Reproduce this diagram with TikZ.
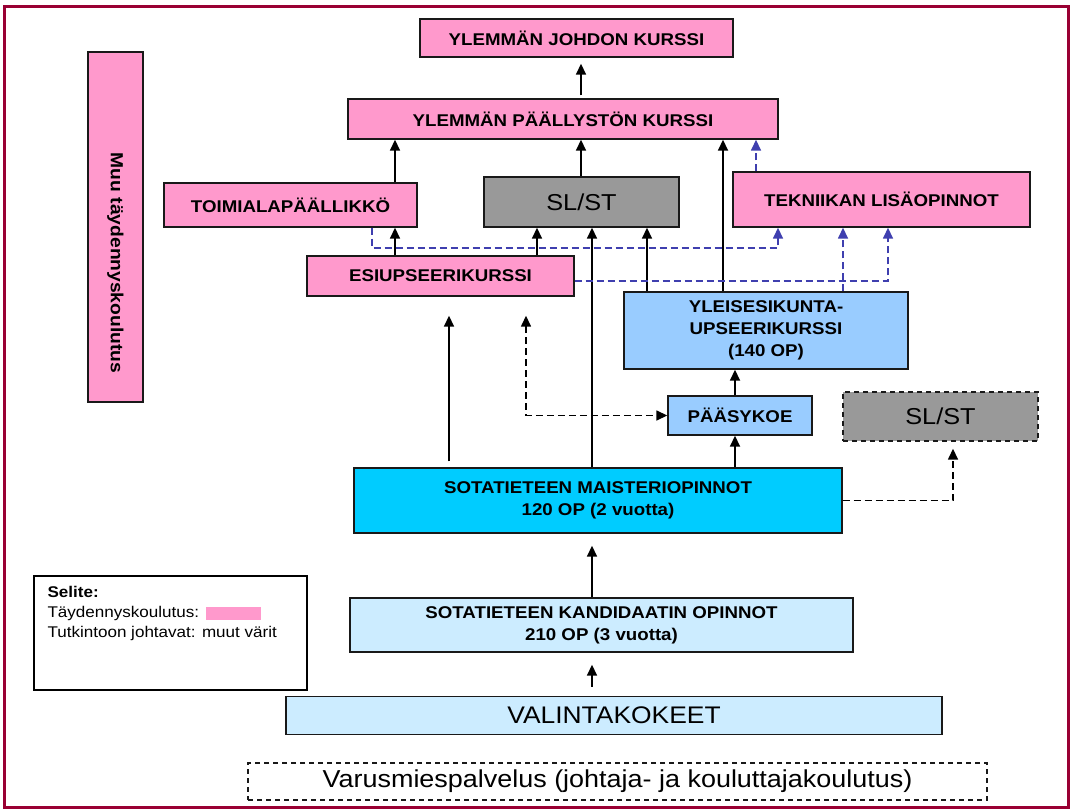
\documentclass[tikz,border=0pt]{standalone}
\usepackage{fontspec}
\setmainfont{Liberation Sans}[FakeStretch=1.1]
\usetikzlibrary{arrows.meta,positioning}
\definecolor{kpink}{HTML}{FF99CC}
\definecolor{kgray}{HTML}{999999}
\definecolor{kblue}{HTML}{99CCFF}
\definecolor{kcyan}{HTML}{00CCFF}
\definecolor{klight}{HTML}{CCECFF}
\definecolor{kdash}{HTML}{3F3FAF}
\definecolor{kframe}{HTML}{990033}
\tikzstyle{box}=[draw=black!90,line width=1.4pt,inner sep=2pt,align=center,text=black,font=\bfseries\fontsize{17}{22}\selectfont]
\tikzstyle{pinkbox}=[box,fill=kpink]
\tikzstyle{graybox}=[box,fill=kgray,font=\fontsize{23}{26}\selectfont]
\tikzstyle{bluebox}=[box,fill=kblue]
\tikzstyle{cyanbox}=[box,fill=kcyan]
\tikzstyle{lightbox}=[box,fill=klight]
\tikzstyle{dashbox}=[box,dashed,dash pattern=on 5pt off 4pt]
\tikzstyle{arr}=[-{Triangle[length=11pt,width=10pt]},line width=1.7pt]
\tikzstyle{bluearr}=[-{Triangle[length=11pt,width=10pt]},line width=1.6pt,draw=kdash,dash pattern=on 7pt off 4pt]
\tikzstyle{blackdash}=[line width=1.5pt,dash pattern=on 7pt off 4pt]

\begin{document}
\begin{tikzpicture}[x=1pt,y=-1pt]
\useasboundingbox (0,0) rectangle (1071,809);
\draw[line width=3pt,draw=kframe] (4,6) rectangle (1068,807);

% columns for the connectors
\foreach \xx in {372,395,449,526,537,581,592,647,723,735,756,778,843,888,953}
\coordinate (c\xx) at (\xx,0);
\coordinate (r248) at (0,248);

% First the boxes
\node[pinkbox,minimum width=313pt,minimum height=38pt] (yjk) at (576.5,38) {YLEMMÄN JOHDON KURSSI};
\node[pinkbox,minimum width=430pt,minimum height=40pt] (ypk) at (563,119) {YLEMMÄN PÄÄLLYSTÖN KURSSI};
\node[pinkbox,minimum width=253pt,minimum height=44pt] (toim) at (290.5,205) {TOIMIALAPÄÄLLIKKÖ};
\node[graybox,minimum width=195pt,minimum height=50pt] (slst) at (581.5,202) {SL/ST};
\node[pinkbox,minimum width=297pt,minimum height=55pt] (tekn) at (881.5,199.5) {TEKNIIKAN LISÄOPINNOT};
\node[pinkbox,minimum width=267pt,minimum height=40pt] (esi) at (440.5,276) {ESIUPSEERIKURSSI};
\node[bluebox,minimum width=284pt,minimum height=77pt] (yleis) at (766,330.5) {YLEISESIKUNTA-\\UPSEERIKURSSI\\(140 OP)};
\node[bluebox,minimum width=144pt,minimum height=39pt] (paasy) at (740,415.5) {PÄÄSYKOE};
\node[graybox,dashbox,font=\fontsize{23}{26}\selectfont,minimum width=195pt,minimum height=49pt] (slst2) at (940.5,416.5) {SL/ST};
\node[cyanbox,minimum width=488pt,minimum height=65pt] (maist) at (598,500.5) {SOTATIETEEN MAISTERIOPINNOT\\120 OP (2 vuotta)};
\node[lightbox,minimum width=503pt,minimum height=54pt] (kand) at (601.5,625) {SOTATIETEEN KANDIDAATIN OPINNOT\\210 OP (3 vuotta)};
\node[lightbox,font=\fontsize{24}{26}\selectfont,minimum width=656pt,minimum height=38pt] (valin) at (614,715.5) {VALINTAKOKEET};
\node[dashbox,fill=white,font=\fontsize{24.5}{26}\selectfont,minimum width=739pt,minimum height=37pt] (varus) at (617.5,781.5) {Varusmiespalvelus (johtaja- ja kouluttajakoulutus)};
\node[pinkbox,minimum width=55pt,minimum height=350pt] (muu) at (115.5,227) {};
\node[rotate=-90,inner sep=0pt,font=\bfseries\fontsize{17.5}{20}\selectfont] (muutxt) at ([yshift=-36pt]muu.center) {Muu täydennyskoulutus};

% legend
\node[draw=black,line width=1.3pt,minimum width=273pt,minimum height=114pt] (legend) at (170.5,633) {};
\node[anchor=north west,align=left,inner sep=0pt,font=\fontsize{15.5}{20}\selectfont] (legtxt) at ([xshift=14pt,yshift=-11pt]legend.north west)
  {\textbf{Selite:}\\Täydennyskoulutus: {\color{kpink}\rule[-2pt]{55pt}{13pt}}\\Tutkintoon johtavat: muut värit};

% Connect the boxes
\draw[arr,shorten <=3pt,shorten >=6pt] (ypk.north -| c581) -- (yjk.south -| c581);
\draw[arr] (toim.north -| c395) -- (ypk.south -| c395);
\draw[arr] (slst.north -| c581) -- (ypk.south -| c581);
\draw[arr] (yleis.north -| c723) -- (ypk.south -| c723);
\draw[bluearr] (tekn.north -| c756) -- (ypk.south -| c756);
\draw[arr] (esi.north -| c395) -- (toim.south -| c395);
\draw[arr] (esi.north -| c537) -- (slst.south -| c537);
\draw[arr] (maist.north -| c592) -- (slst.south -| c592);
\draw[arr] (yleis.north -| c647) -- (slst.south -| c647);
\draw[bluearr] (toim.south -| c372) -- (c372 |- r248) -| (tekn.south -| c778);
\draw[bluearr] ([yshift=-5pt]esi.east) -| (tekn.south -| c888);
\draw[bluearr] (yleis.north -| c843) -- (tekn.south -| c843);
\draw[arr,shorten <=6pt,shorten >=19pt] (maist.north -| c449) -- (esi.south -| c449);
\draw[arr,blackdash,{Triangle[length=11pt,width=10pt]}-{Triangle[length=11pt,width=10pt]},shorten <=19pt] (esi.south -| c526) |- (paasy.west);
\draw[arr] (maist.north -| c735) -- (paasy.south -| c735);
\draw[arr] (paasy.north -| c735) -- (yleis.south -| c735);
\draw[arr,blackdash,shorten >=7pt] (maist.east) -| (slst2.south -| c953);
\draw[arr,shorten >=12pt] (kand.north -| c592) -- (maist.south -| c592);
\draw[arr,shorten <=9pt,shorten >=12pt] (valin.north -| c592) -- (kand.south -| c592);

\end{tikzpicture}
\end{document}
